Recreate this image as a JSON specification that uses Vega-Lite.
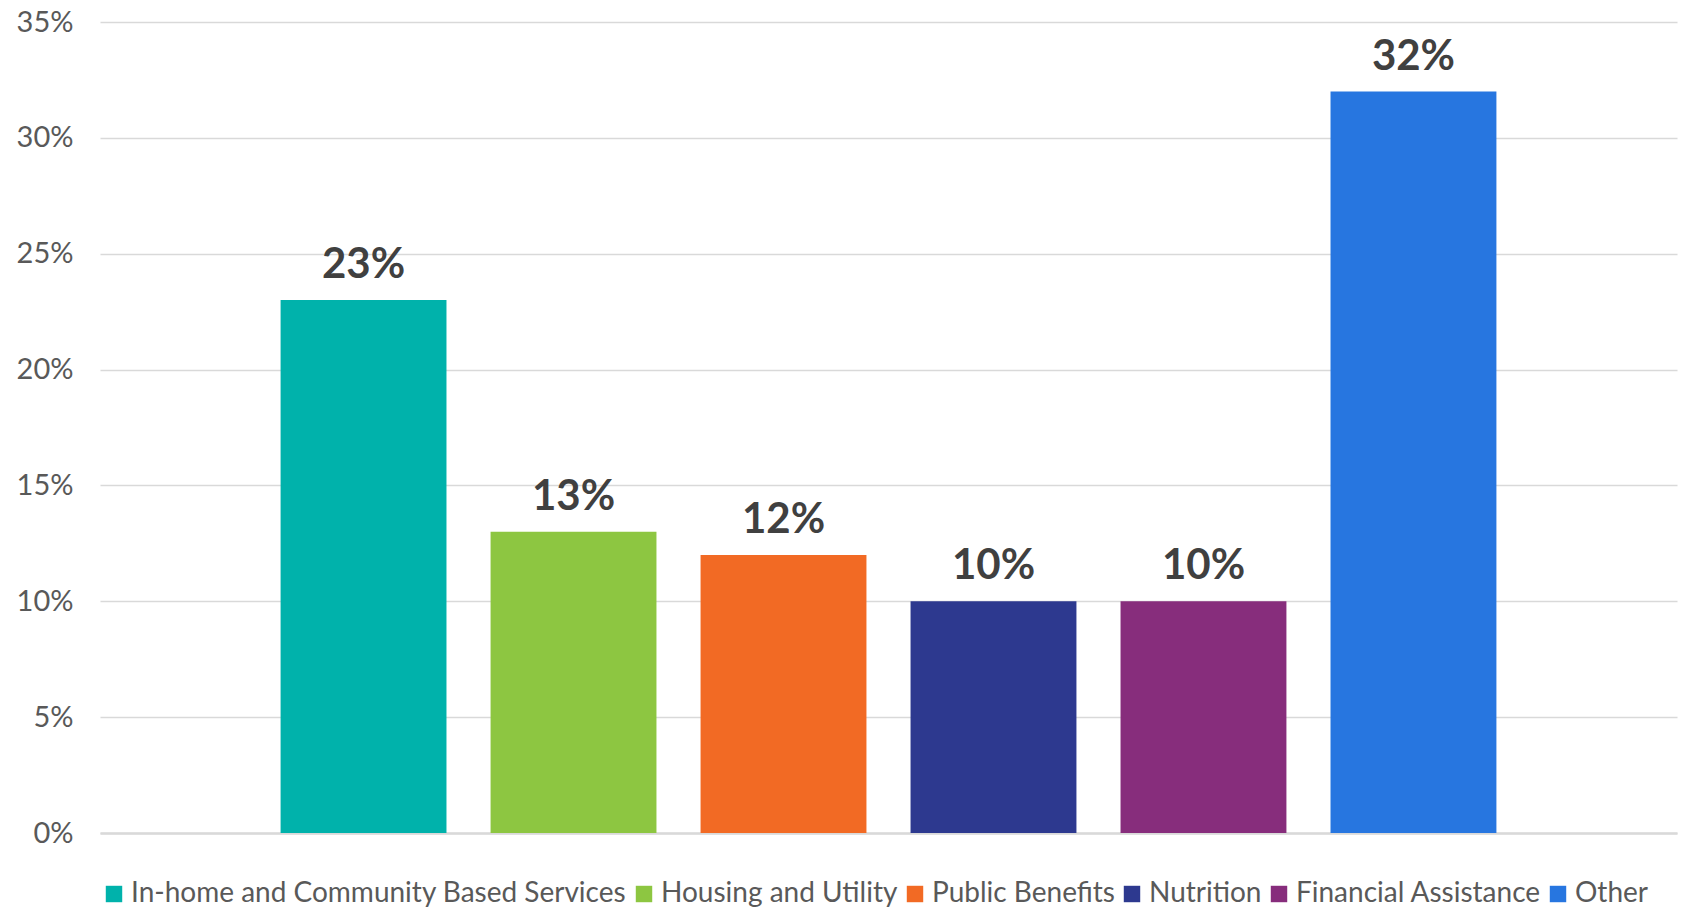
{
  "$schema": "https://vega.github.io/schema/vega-lite/v6.json",
  "width": 1577,
  "height": 811,
  "autosize": {"type": "none"},
  "padding": {"left": 100, "top": 22, "right": 5, "bottom": 79},
  "background": "white",
  "data": {
    "values": [
      {"service": "In-home and Community Based Services", "share": 0.23},
      {"service": "Housing and Utility", "share": 0.13},
      {"service": "Public Benefits", "share": 0.12},
      {"service": "Nutrition", "share": 0.10},
      {"service": "Financial Assistance", "share": 0.10},
      {"service": "Other", "share": 0.32}
    ]
  },
  "encoding": {
    "x": {
      "field": "service",
      "type": "nominal",
      "sort": null,
      "scale": {"paddingInner": 0.21, "paddingOuter": 0.86},
      "axis": {
        "title": null,
        "labels": false,
        "ticks": false,
        "grid": false,
        "domainColor": "#d9d9d9",
        "domainWidth": 2.5
      }
    },
    "y": {
      "field": "share",
      "type": "quantitative",
      "scale": {"domain": [0, 0.35]},
      "axis": {
        "title": null,
        "format": ".0%",
        "values": [0, 0.05, 0.1, 0.15, 0.2, 0.25, 0.3, 0.35],
        "domain": false,
        "ticks": false,
        "labelPadding": 27,
        "labelFont": "Lato",
        "labelFontSize": 29,
        "labelColor": "#595959",
        "gridColor": "#d9d9d9",
        "gridWidth": 1.5
      }
    }
  },
  "layer": [
    {
      "mark": {"type": "bar"},
      "encoding": {
        "color": {
          "field": "service",
          "type": "nominal",
          "sort": null,
          "scale": {
            "domain": [
              "In-home and Community Based Services",
              "Housing and Utility",
              "Public Benefits",
              "Nutrition",
              "Financial Assistance",
              "Other"
            ],
            "range": ["#00b2ab", "#8dc641", "#f26a24", "#2d398f", "#872d7c", "#2776e0"]
          },
          "legend": {
            "title": null,
            "orient": "bottom",
            "direction": "horizontal",
            "offset": 47,
            "symbolType": "square",
            "symbolSize": 270,
            "symbolStrokeWidth": 0,
            "labelFont": "Lato",
            "labelFontSize": 28,
            "labelColor": "#595959",
            "labelLimit": 600,
            "columnPadding": 3,
            "labelOffset": 3
          }
        }
      }
    },
    {
      "mark": {
        "type": "text",
        "baseline": "bottom",
        "dy": -13,
        "font": "Lato",
        "fontSize": 42,
        "fontWeight": "bold",
        "color": "#404040"
      },
      "encoding": {
        "text": {"field": "share", "type": "quantitative", "format": ".0%"}
      }
    }
  ],
  "config": {
    "view": {"stroke": null}
  }
}
